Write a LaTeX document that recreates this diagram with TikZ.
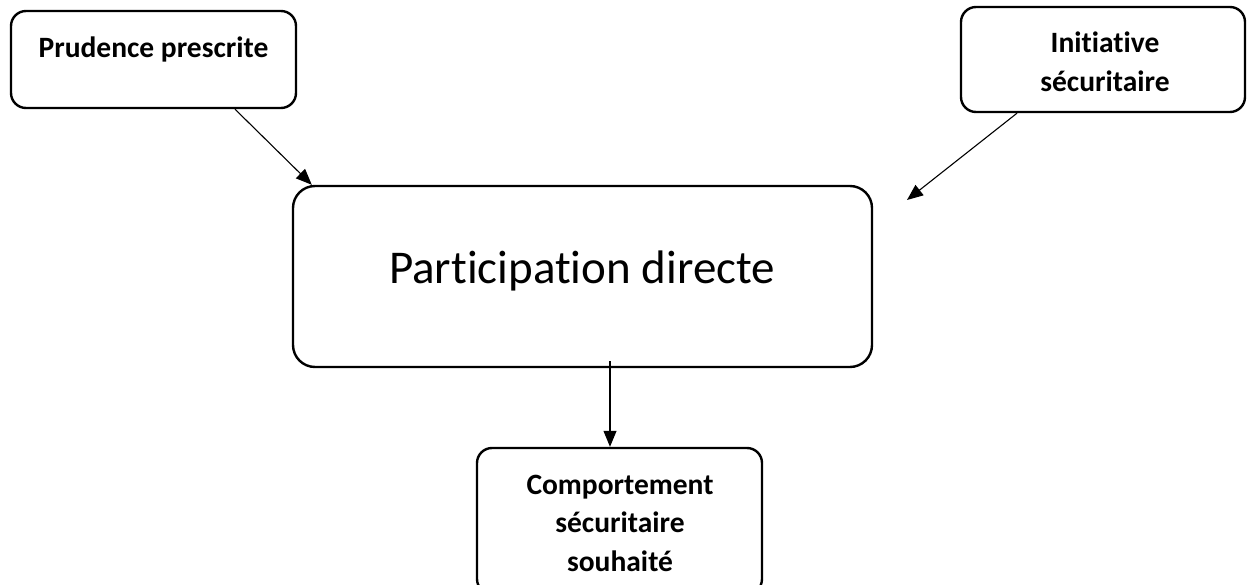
\documentclass[tikz,border=0pt]{standalone}
\usepackage{fontspec}
\setmainfont{Carlito}[RawFeature=-liga]
\usetikzlibrary{arrows.meta}
\tikzset{
  box/.style={draw, line width=2.4pt, rounded corners=15pt, inner sep=0pt},
  bigbox/.style={draw, line width=2.4pt, rounded corners=22pt, inner sep=0pt},
  lbl/.style={inner sep=0pt, align=center, font=\fontsize{29.5}{38.5}\selectfont\bfseries},
  conn/.style={line width=1.1pt, -{Triangle[length=16pt,width=13pt]}}
}
\begin{document}
\begin{tikzpicture}[x=1pt, y=-1pt]
\useasboundingbox (0,0) rectangle (1253,585);
\clip (0,0) rectangle (1253,585);
% boxes
\node[box, minimum width=285pt, minimum height=97pt] (b1) at (153.5,59.5) {};
\node[box, minimum width=284pt, minimum height=105pt] (b2) at (1103,59.5) {};
\node[bigbox, minimum width=579pt, minimum height=181pt] (c) at (582.5,276.5) {};
\node[box, minimum width=285pt, minimum height=146pt] (b4) at (619.5,521) {};
% labels
\node[lbl] (t1) at (153.5,49) {Prudence prescrite};
\node[lbl] (t2) at (1105,62) {Initiative\\sécuritaire};
\node[inner sep=0pt, font=\fontsize{47}{56}\selectfont] (t3) at (582,271) {Participation directe};
\node[lbl] (t4) at (620,523) {Comportement\\sécuritaire\\souhaité};
% connectors
\coordinate (free) at (907,200);
\draw[conn] ([xshift=81.5pt]b1.south) -- ([xshift=20pt]c.north west);
\draw[conn] ([xshift=-86pt]b2.south) -- (free);
\draw[conn] ([xshift=27.5pt,yshift=7pt]c.south) -- ([xshift=-9.5pt]b4.north);
\end{tikzpicture}
\end{document}
